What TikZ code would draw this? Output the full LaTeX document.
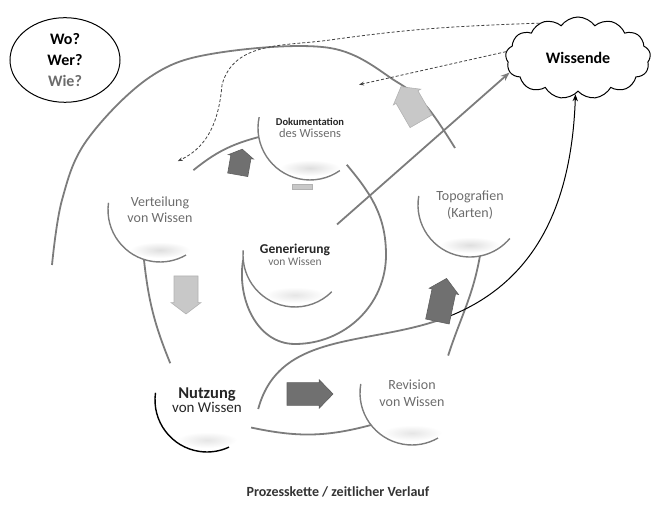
\documentclass[tikz,border=0pt]{standalone}
\usepackage{fontspec}
\setmainfont{Carlito}
\usepackage{tikz}
\usetikzlibrary{arrows.meta,shapes.geometric,shapes.symbols}

\definecolor{linegray}{HTML}{7C7C7C}
\definecolor{textgray}{HTML}{6C6C6C}
\definecolor{darkblock}{HTML}{707070}
\definecolor{lightblock}{HTML}{C8C8C8}

\tikzset{blockarrow/.pic={\path[pic actions] (-20,-12) -- (8,-12) -- (8,-15) -- (20,0) -- (8,15) -- (8,12) -- (-20,12) -- cycle;}}

\begin{document}
\begin{tikzpicture}[x=1pt, y=1pt,
  ball/.style={circle, minimum size=104pt, inner sep=0pt, outer sep=0pt, align=center, text=textgray},
  rim/.style={linegray, line width=1.4pt},
  track/.style={linegray, line width=1.8pt},
  hint/.style={densely dashed, line width=0.8pt, black!75, -{Stealth[length=5pt]}},
  blockdark/.style={fill=darkblock, draw=darkblock!85!black, line width=0.6pt},
  blocklight/.style={fill=lightblock, draw=gray!60, line width=0.6pt}]
  \useasboundingbox (0,0) rectangle (654,510);

  % Questions and the people who know
  \node[draw, ellipse, line width=1pt, minimum width=110pt, minimum height=76pt, align=center,
        font=\bfseries\fontsize{16}{21}\selectfont] (fragen) at (65,450) {Wo?\\Wer?\\{\color{textgray}Wie?}};
  \node[draw, cloud, cloud puffs=13, cloud puff arc=110, aspect=1.8, line width=1pt,
        minimum width=145pt, minimum height=82pt, font=\bfseries\fontsize{16}{18}\selectfont] (wissende) at (578,452) {Wissende};

  % Process steps (spheres)
  \node[ball] (dok) at (310,382) {{\bfseries\color{black!85}\fontsize{10.5}{13}\selectfont Dokumentation}\\{\fontsize{12.5}{13}\selectfont des Wissens}};
  \node[ball, font=\fontsize{14}{16}\selectfont] (vert) at (160,300) {Verteilung\\von Wissen};
  \node[ball] (gen) at (295,255) {{\bfseries\color{black!85}\fontsize{13.5}{15}\selectfont Generierung}\\{\fontsize{11.5}{15}\selectfont von Wissen}};
  \node[ball, font=\fontsize{14}{17}\selectfont] (topo) at (470,305) {Topografien\\(Karten)};
  \node[ball, text=black!85] (nutz) at (207,110) {{\bfseries\fontsize{16.5}{17}\selectfont Nutzung}\\{\fontsize{15}{17}\selectfont von Wissen}};
  \node[ball, font=\fontsize{14}{17}\selectfont] (rev) at (412,117) {Revision\\von Wissen};

  % shadows under the spheres
  \shade[inner color=gray!25, outer color=white] ([yshift=-40pt]dok.center) ellipse [x radius=30pt, y radius=8pt];
  \shade[inner color=gray!25, outer color=white] ([yshift=-40pt]vert.center) ellipse [x radius=30pt, y radius=8pt];
  \shade[inner color=gray!20, outer color=white] ([yshift=-40pt]gen.center) ellipse [x radius=30pt, y radius=8pt];
  \shade[inner color=gray!25, outer color=white] ([yshift=-40pt]topo.center) ellipse [x radius=30pt, y radius=8pt];
  \shade[inner color=gray!20, outer color=white] ([yshift=-40pt]nutz.center) ellipse [x radius=30pt, y radius=8pt];
  \shade[inner color=gray!20, outer color=white] ([yshift=-40pt]rev.center) ellipse [x radius=30pt, y radius=8pt];

  % rims
  \draw[rim] (dok.168) arc[start angle=168, end angle=305, radius=52pt];
  \draw[rim] (vert.172) arc[start angle=172, end angle=300, radius=52pt];
  \draw[rim] (gen.175) arc[start angle=175, end angle=315, radius=52pt];
  \draw[rim] (topo.170) arc[start angle=170, end angle=320, radius=52pt];
  \draw[black, line width=1.4pt] (nutz.172) arc[start angle=172, end angle=295, radius=52pt];
  \draw[rim] (rev.170) arc[start angle=170, end angle=300, radius=52pt];

  % outer ring
  \draw[track] plot[smooth, tension=0.6] coordinates {(52,245) (62,310) (87,370) (150,433) (217,457) (330,462) (397,428) (427,403) (455,362)};

  % connections between the steps
  \draw[track] (vert.50) to[bend left=12] (dok.190);
  \draw[track] (vert.252) to[bend right=8] (nutz.135);
  \draw[track] (dok.315) to[out=-50,in=90] (386,255) to[out=-90,in=0] (295,166) to[out=180,in=-100] (gen.185);
  \draw[track] (nutz.328) to[out=-12,in=195] (rev.218);
  \draw[track] (rev.46) to[out=72,in=-100] (topo.281);

  % links to the people who know
  \draw[track, -{Stealth[length=9pt]}] (gen.36) -- (wissende.192);
  \coordinate (knick) at (450,194);
  \draw[track] (nutz.350) to[out=75,in=202] (knick);
  \draw[line width=1pt, -{Stealth[length=7pt]}] (knick) to[out=22,in=-92] (wissende.266);
  \draw[hint] (wissende.138) to[out=182,in=8] (330,470) to[out=188,in=75] (222,425) to[out=-95,in=25] (vert.70);
  \draw[hint, shorten >=16pt] (wissende.175) -- (dok.50);

  % block arrows
  \pic[blocklight, rotate=120, xscale=1, yscale=1.05] (pfeilA) at (411,406) {blockarrow};
  \pic[blockdark, rotate=80, xscale=0.65, yscale=0.85] (pfeilB) at (240,348) {blockarrow};
  \pic[blocklight, rotate=-90, xscale=0.95, yscale=1] (pfeilC) at (186,215) {blockarrow};
  \pic[blockdark, xscale=1.15, yscale=0.95] (pfeilD) at (310,116) {blockarrow};
  \pic[blockdark, rotate=78, xscale=1.1, yscale=1] (pfeilE) at (442,210) {blockarrow};
  \node[fill=lightblock, draw=gray!60, minimum width=20pt, minimum height=5pt, inner sep=0pt] (pfeilF) at (302,323) {};

  % caption
  \node[font=\bfseries\fontsize{14}{16}\selectfont, text=black!80] (titel) at (338,18) {Prozesskette / zeitlicher Verlauf};
\end{tikzpicture}
\end{document}
